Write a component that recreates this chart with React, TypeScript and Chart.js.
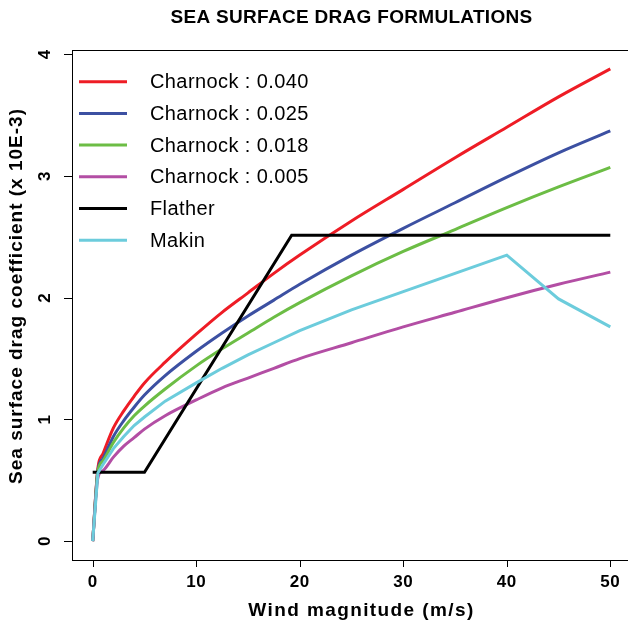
import { useEffect, useRef } from 'react';
import { Chart, registerables } from 'chart.js';

Chart.register(...registerables);

// ---------- data ----------
const windSpeed = [0, 0.5, 1, 2, 3, 4, 5, 7, 10, 12.5, 15, 17.5, 20, 25, 30, 35, 40, 45, 50];
const charnock040 = [0, 0.6, 0.72, 0.93, 1.07, 1.19, 1.3, 1.47, 1.7, 1.88, 2.04, 2.2, 2.35, 2.63, 2.89, 3.15, 3.4, 3.65, 3.88];
const charnock025 = [0, 0.58, 0.68, 0.86, 0.99, 1.1, 1.2, 1.36, 1.56, 1.71, 1.85, 1.98, 2.11, 2.35, 2.57, 2.78, 2.99, 3.19, 3.37];
const charnock018 = [0, 0.57, 0.66, 0.81, 0.93, 1.03, 1.11, 1.25, 1.44, 1.58, 1.71, 1.84, 1.96, 2.18, 2.38, 2.56, 2.74, 2.91, 3.07];
const charnock005 = [0, 0.52, 0.58, 0.69, 0.78, 0.85, 0.92, 1.03, 1.16, 1.26, 1.34, 1.42, 1.5, 1.63, 1.76, 1.88, 2.0, 2.11, 2.21];
const flatherSpeed = [0, 5, 19.22, 50];
const flatherCd = [0.565, 0.565, 2.513, 2.513];
const makinSpeed = [0, 0.5, 1, 2, 3, 4, 5, 7, 10, 12.5, 15, 17.5, 20, 25, 30, 35, 40, 45, 50];
const makinCd = [0, 0.56, 0.63, 0.76, 0.86, 0.95, 1.02, 1.15, 1.3, 1.42, 1.53, 1.63, 1.73, 1.9, 2.05, 2.2, 2.35, 1.99, 1.76];

const seriesLabels = ['Charnock : 0.040', 'Charnock : 0.025', 'Charnock : 0.018', 'Charnock : 0.005', 'Flather', 'Makin'];
const seriesColors = ['#EE1C25', '#3C50A2', '#6CBD45', '#B34EA4', '#000000', '#6CCCDC'];

const xTicks = [0, 10, 20, 30, 40, 50];
const yTicks = [0, 1, 2, 3, 4];

const chartTitle = 'SEA SURFACE DRAG FORMULATIONS';
const xTitle = 'Wind magnitude (m/s)';
const yTitle = 'Sea surface drag coefficient (x 10E-3)';

const FONT = '"Liberation Sans", Arial, Helvetica, sans-serif';

const rPlot = {
  id: 'rPlot',
  afterDraw(chart: any) {
    const ctx = chart.ctx as CanvasRenderingContext2D;
    const { left, right, top, bottom } = chart.chartArea;
    const xs = chart.scales.x;
    const ys = chart.scales.y;
    const cx = (left + right) / 2;
    ctx.save();
    ctx.strokeStyle = '#000';
    ctx.fillStyle = '#000';
    ctx.lineWidth = 1;
    // box
    ctx.strokeRect(Math.round(left) + 0.5, Math.round(top) + 0.5, Math.round(right - left), Math.round(bottom - top));
    // ticks
    ctx.font = `bold 17px ${FONT}`;
    ctx.textAlign = 'center';
    ctx.textBaseline = 'middle';
    (ctx as any).letterSpacing = '0.5px';
    ctx.beginPath();
    xTicks.forEach((v) => {
      const px = Math.round(xs.getPixelForValue(v)) + 0.5;
      ctx.moveTo(px, bottom);
      ctx.lineTo(px, bottom + 7);
    });
    yTicks.forEach((v) => {
      const py = Math.round(ys.getPixelForValue(v)) + 0.5;
      ctx.moveTo(left, py);
      ctx.lineTo(left - 8, py);
    });
    ctx.stroke();
    xTicks.forEach((v) => {
      ctx.fillText(String(v), xs.getPixelForValue(v), bottom + 22);
    });
    yTicks.forEach((v) => {
      ctx.save();
      ctx.translate(left - 27, ys.getPixelForValue(v));
      ctx.rotate(-Math.PI / 2);
      ctx.fillText(String(v), 0, 0);
      ctx.restore();
    });
    // titles
    ctx.font = `bold 19px ${FONT}`;
    (ctx as any).letterSpacing = '0.3px';
    ctx.fillText(chartTitle, cx, 18);
    (ctx as any).letterSpacing = '1.4px';
    ctx.fillText(xTitle, cx + 10, 611);
    (ctx as any).letterSpacing = '1px';
    ctx.save();
    ctx.translate(17, 296);
    ctx.rotate(-Math.PI / 2);
    ctx.fillText(yTitle, 0, 0);
    ctx.restore();
    // legend
    (ctx as any).letterSpacing = '0.4px';
    ctx.font = `20px ${FONT}`;
    ctx.textAlign = 'left';
    chart.data.datasets.forEach((ds: any, i: number) => {
      const y = 81.7 + i * 31.7;
      ctx.strokeStyle = ds.borderColor;
      ctx.lineWidth = 3;
      ctx.beginPath();
      ctx.moveTo(79, y);
      ctx.lineTo(127, y);
      ctx.stroke();
      ctx.fillStyle = '#000';
      ctx.fillText(ds.label, 150, y + 1);
    });
    ctx.restore();
  },
};

export default function App() {
  const ref = useRef<HTMLCanvasElement>(null);
  useEffect(() => {
    const pts = (xsArr: number[], ysArr: number[]) => xsArr.map((x, i) => ({ x, y: ysArr[i] }));
    const series = [
      pts(windSpeed, charnock040),
      pts(windSpeed, charnock025),
      pts(windSpeed, charnock018),
      pts(windSpeed, charnock005),
      pts(flatherSpeed, flatherCd),
      pts(makinSpeed, makinCd),
    ];
    const orders = [5, 4, 3, 2, 1, 0];
    const datasets = series.map((data, i) => ({
      label: seriesLabels[i],
      data,
      borderColor: seriesColors[i],
      backgroundColor: seriesColors[i],
      borderWidth: 3,
      pointRadius: 0,
      fill: false,
      order: orders[i],
      tension: 0,
      cubicInterpolationMode: i < 4 ? ('monotone' as const) : ('default' as const),
    }));
    const chart = new Chart(ref.current as HTMLCanvasElement, {
      type: 'line',
      data: { datasets },
      options: {
        animation: false,
        responsive: false,
        maintainAspectRatio: false,
        layout: { padding: { left: 72, top: 50, right: 9, bottom: 65 } },
        scales: {
          x: { type: 'linear', min: -2, max: 52, display: false },
          y: { type: 'linear', min: -0.155, max: 4.035, display: false },
        },
        plugins: {
          legend: { display: false },
          tooltip: { enabled: false },
          title: { display: false },
        },
      },
      plugins: [rPlot],
    });
    return () => chart.destroy();
  }, []);
  return (
    <div
      style={{
        position: 'fixed',
        left: 0,
        top: 0,
        width: 628,
        height: 625,
        overflow: 'hidden',
        background: '#fff',
      }}
    >
      <canvas ref={ref} width={640} height={625} style={{ display: 'block', width: 640, height: 625 }} />
    </div>
  );
}
